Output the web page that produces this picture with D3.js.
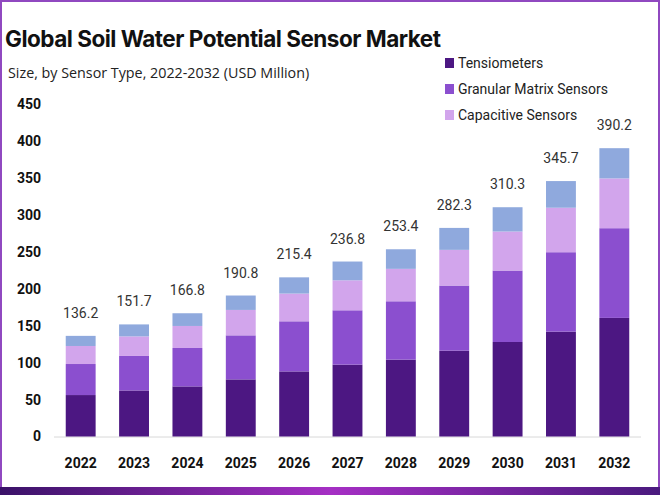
<!DOCTYPE html>
<html>
<head>
<meta charset="utf-8">
<script src="https://cdn.jsdelivr.net/npm/d3@7"></script>
<style>
  body { margin: 0; background: #fff; }
  svg { display: block; font-family: "Open Sans", sans-serif; }
</style>
</head>
<body>
<div id="chart"></div>
<script>
// data
var years = ['2022','2023','2024','2025','2026','2027','2028','2029','2030','2031','2032'];
var tensiometers = [56.1, 62.3, 67.8, 77.3, 88.1, 97.2, 104.0, 116.2, 127.9, 141.9, 160.5];
var granular     = [42.0, 46.7, 52.0, 59.6, 67.8, 73.6, 79.0, 88.1, 96.7, 107.5, 121.4];
var capacitive   = [24.4, 26.5, 29.8, 34.4, 37.5, 40.6, 43.9, 48.3, 52.8, 60.2, 67.4];
var others       = [13.7, 16.2, 17.2, 19.5, 22.0, 25.4, 26.5, 29.7, 32.9, 36.1, 40.9];
var totals       = [136.2, 151.7, 166.8, 190.8, 215.4, 236.8, 253.4, 282.3, 310.3, 345.7, 390.2];
var yTicks = [0, 50, 100, 150, 200, 250, 300, 350, 400, 450];

var seriesNames = ['Tensiometers', 'Granular Matrix Sensors', 'Capacitive Sensors', 'Others'];
var legendNames = ['Tensiometers', 'Granular Matrix Sensors', 'Capacitive Sensors'];
var colors = ['#4c1782', '#8b4fcf', '#d2a5ec', '#8fa9dd'];

var width = 660, height = 495;

var svg = d3.select('#chart').append('svg')
    .attr('width', width)
    .attr('height', height);

// frame
var grad = svg.append('defs').append('linearGradient').attr('id', 'band');
grad.append('stop').attr('offset', '0%').attr('stop-color', '#3a1268');
grad.append('stop').attr('offset', '50%').attr('stop-color', '#a52fc4');
grad.append('stop').attr('offset', '100%').attr('stop-color', '#4a1a7e');
svg.append('rect').attr('x', 1).attr('y', 1).attr('width', width - 2).attr('height', height - 2)
    .attr('fill', 'none').attr('stroke', '#9048c0').attr('stroke-width', 2);
svg.append('rect').attr('x', 0).attr('y', 487).attr('width', width).attr('height', 8)
    .attr('fill', 'url(#band)');

// table for the stack
var table = years.map(function (y, i) {
    return { year: y, 'Tensiometers': tensiometers[i], 'Granular Matrix Sensors': granular[i],
             'Capacitive Sensors': capacitive[i], 'Others': others[i], total: totals[i] };
});
var stack = d3.stack().keys(seriesNames)(table);

var x = d3.scaleBand()
    .domain(years)
    .range([54, 641])
    .paddingInner(0.44)
    .paddingOuter(0.22);

var y = d3.scaleLinear()
    .domain([0, 450])
    .range([436.5, 104]);

// baseline
svg.append('line')
    .attr('x1', 54).attr('x2', 641)
    .attr('y1', y(0) + 0.5).attr('y2', y(0) + 0.5)
    .attr('stroke', '#d8d8d8');

// bars
svg.selectAll('.layer')
    .data(stack)
    .enter().append('g')
    .attr('class', 'layer')
    .attr('fill', function (d, i) { return colors[i]; })
    .selectAll('rect')
    .data(function (d) { return d; })
    .enter().append('rect')
    .attr('x', function (d) { return x(d.data.year); })
    .attr('width', x.bandwidth())
    .attr('y', function (d) { return y(d[1]); })
    .attr('height', function (d) { return y(d[0]) - y(d[1]); });

// totals above bars
svg.selectAll('.total')
    .data(table)
    .enter().append('text')
    .attr('class', 'total')
    .attr('x', function (d) { return x(d.year) + x.bandwidth() / 2; })
    .attr('y', function (d) { return y(d.total) - 18; })
    .attr('text-anchor', 'middle')
    .attr('font-family', 'Roboto, sans-serif')
    .attr('font-size', 14)
    .attr('fill', '#333')
    .text(function (d) { return d.total.toFixed(1); });

// y axis
var yAxis = svg.append('g')
    .attr('transform', 'translate(41,0)')
    .call(d3.axisLeft(y).tickValues(yTicks).tickSize(0).tickPadding(0));
yAxis.select('.domain').remove();
yAxis.selectAll('text')
    .attr('font-family', 'Roboto, sans-serif')
    .attr('font-weight', 'bold')
    .attr('font-size', 14)
    .attr('fill', '#111');

// x axis
var xAxis = svg.append('g')
    .attr('transform', 'translate(0,' + y(0) + ')')
    .call(d3.axisBottom(x).tickSize(0).tickPadding(22));
xAxis.select('.domain').remove();
xAxis.selectAll('text')
    .attr('font-family', 'Roboto, sans-serif')
    .attr('font-weight', 'bold')
    .attr('font-size', 14)
    .attr('fill', '#111');

// titles
svg.append('text')
    .attr('x', 5).attr('y', 47)
    .attr('font-family', 'Inter, sans-serif')
    .attr('font-weight', 'bold')
    .attr('font-size', 22.5)
    .attr('letter-spacing', -0.5)
    .attr('fill', '#111')
    .text('Global Soil Water Potential Sensor Market');

svg.append('text')
    .attr('x', 8).attr('y', 78)
    .attr('font-size', 14.3)
    .attr('fill', '#222')
    .text('Size, by Sensor Type, 2022-2032 (USD Million)');

// legend
var legend = svg.selectAll('.legend')
    .data(legendNames)
    .enter().append('g')
    .attr('class', 'legend')
    .attr('transform', function (d, i) { return 'translate(445,' + (63 + i * 26) + ')'; });
legend.append('rect')
    .attr('x', 0).attr('y', -5)
    .attr('width', 9).attr('height', 10)
    .attr('fill', function (d, i) { return colors[i]; });
legend.append('text')
    .attr('x', 13).attr('y', 5)
    .attr('font-family', 'Roboto, sans-serif')
    .attr('font-size', 14)
    .attr('fill', '#222')
    .text(function (d) { return d; });
</script>
</body>
</html>
